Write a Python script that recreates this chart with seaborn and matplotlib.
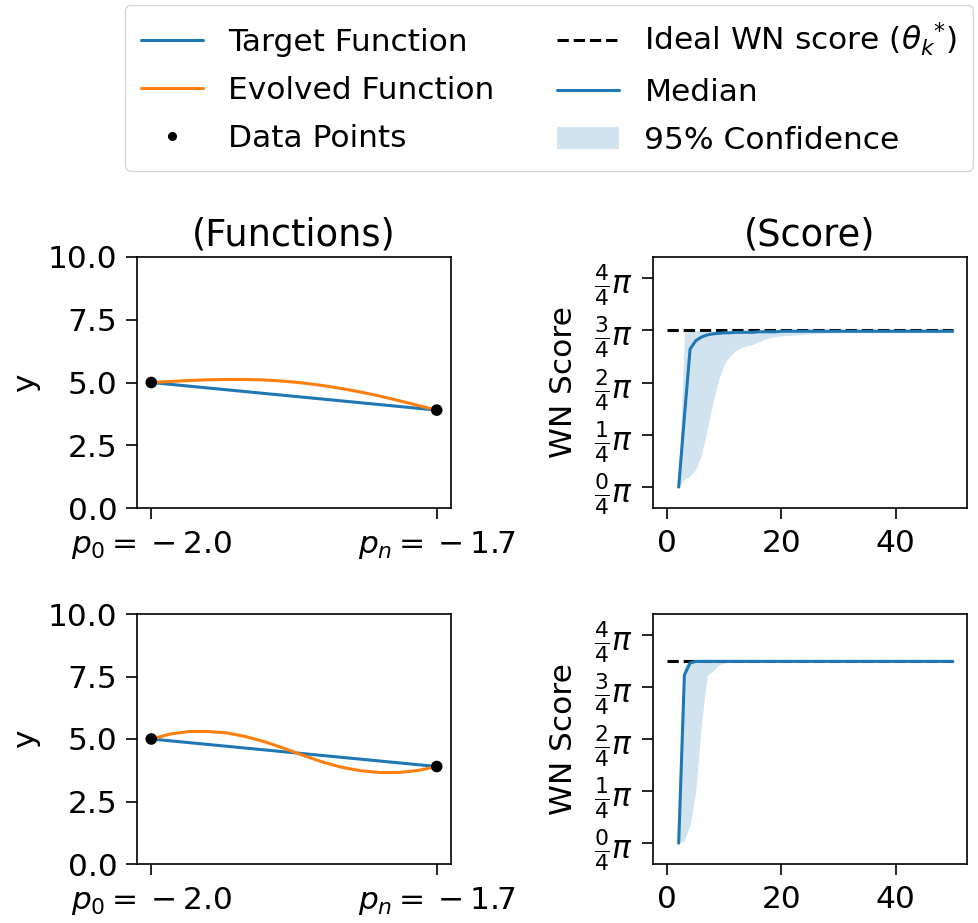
import numpy as np
import pandas as pd
import matplotlib
matplotlib.use("Agg")
import matplotlib.pyplot as plt
from matplotlib.lines import Line2D
from matplotlib.patches import Patch
import seaborn as sns

# ---- function panels -------------------------------------------------------
p_bounds = [-2.0, -1.7]
p_labels = [r"$p_0 = {}-2.0$", r"$p_n = {}-1.7$"]
target_y = [5.0, 3.9]
data_x = [-2.0, -1.7]
data_y = [5.0, 3.9]

curve_x = [-2.00, -1.98, -1.96, -1.94, -1.92, -1.90, -1.88, -1.86,
           -1.84, -1.82, -1.80, -1.78, -1.76, -1.74, -1.72, -1.70]
evolved_top = [5.00, 5.04, 5.08, 5.11, 5.12, 5.12, 5.10, 5.05,
               4.98, 4.88, 4.76, 4.62, 4.46, 4.28, 4.09, 3.90]
evolved_bottom = [5.00, 5.20, 5.30, 5.30, 5.24, 5.09, 4.88, 4.62,
                  4.34, 4.08, 3.87, 3.73, 3.66, 3.66, 3.74, 3.90]

# ---- score panels (values in units of pi/4) -------------------------------
generations = [2, 3, 4, 5, 6, 7, 8, 9, 10, 11, 12, 13, 14, 15, 16, 17, 18, 19,
               20, 25, 30, 35, 40, 45, 50]
ideal_top = 3.0
median_top = [0.00, 1.35, 2.64, 2.80, 2.87, 2.91, 2.93, 2.94, 2.95, 2.95,
              2.96, 2.96, 2.96, 2.96, 2.97, 2.97, 2.97, 2.97, 2.98, 2.98,
              2.98, 2.98, 2.98, 2.98, 2.98]
lower_top = [0.00, 0.15, 0.21, 0.34, 0.62, 1.10, 1.62, 2.06, 2.35, 2.51,
             2.61, 2.67, 2.70, 2.73, 2.78, 2.82, 2.86, 2.88, 2.89, 2.93,
             2.95, 2.95, 2.95, 2.95, 2.95]
upper_top = [0.02, 2.95, 2.98, 2.99, 2.99, 2.99, 2.99, 2.99, 2.99, 2.99,
             2.99, 2.99, 2.99, 2.99, 2.99, 2.99, 2.99, 2.99, 2.99, 2.99,
             2.99, 2.99, 2.99, 2.99, 2.99]

ideal_bottom = 3.5
median_bottom = [0.00, 3.23, 3.46, 3.49, 3.49, 3.49, 3.49, 3.49, 3.49, 3.49,
                 3.49, 3.49, 3.49, 3.49, 3.49, 3.49, 3.49, 3.49, 3.49, 3.49,
                 3.49, 3.49, 3.49, 3.49, 3.49]
lower_bottom = [0.00, 0.05, 0.35, 1.00, 2.30, 3.22, 3.30, 3.42, 3.46, 3.47,
                3.47, 3.47, 3.47, 3.47, 3.47, 3.47, 3.47, 3.47, 3.47, 3.47,
                3.47, 3.47, 3.47, 3.47, 3.47]
upper_bottom = [0.02, 3.42, 3.50, 3.50, 3.50, 3.50, 3.50, 3.50, 3.50, 3.50,
                3.50, 3.50, 3.50, 3.50, 3.50, 3.50, 3.50, 3.50, 3.50, 3.50,
                3.50, 3.50, 3.50, 3.50, 3.50]

score_ticks = [0, 1, 2, 3, 4]
score_ticklabels = [r"$\frac{%d}{4}\pi$" % k for k in score_ticks]

BLUE = "#1f77b4"
ORANGE = "#ff7f0e"
FS = 22.5
TITLE_FS = 26.5

sns.set_style("ticks")
plt.rcParams.update({
    "font.family": ["DejaVu Sans"],
    "font.size": FS,
    "mathtext.fontset": "dejavusans",
    "text.color": "black",
    "axes.labelcolor": "black",
    "xtick.color": "black",
    "ytick.color": "black",
    "axes.edgecolor": "black",
})

W, H = 979, 923
fig = plt.figure(figsize=(W / 100, H / 100), dpi=100)


def frac_box(left, top, right, bottom):
    return [left / W, 1 - bottom / H, (right - left) / W, (bottom - top) / H]


def style_ticks(ax):
    ax.tick_params(labelsize=FS, direction="out", length=8, width=1.2,
                   pad=6)
    ax.tick_params(axis="x", pad=7)


def draw_functions(ax, evolved, title=None):
    sns.lineplot(x=p_bounds, y=target_y, ax=ax, color=BLUE, lw=2.2)
    sns.lineplot(x=curve_x, y=evolved, ax=ax, color=ORANGE, lw=2.2)
    sns.scatterplot(x=data_x, y=data_y, ax=ax, color="black", s=70,
                    edgecolor="none", zorder=5)
    ax.set_ylim(0, 10)
    ax.set_yticks([0, 2.5, 5.0, 7.5, 10.0])
    ax.set_yticklabels(["0.0", "2.5", "5.0", "7.5", "10.0"])
    ax.set_xticks(p_bounds)
    ax.set_xticklabels(p_labels)
    ax.set_ylabel("y", labelpad=6)
    style_ticks(ax)
    if title:
        ax.set_title(title, fontsize=TITLE_FS, pad=8)


def draw_score(ax, ideal, median, lower, upper, title=None):
    ax.hlines(ideal, 0, 50, colors="black", linestyles="--", lw=2.2,
              zorder=1)
    ax.fill_between(generations, lower, upper, color=BLUE, alpha=0.2,
                    lw=0, zorder=2)
    sns.lineplot(x=generations, y=median, ax=ax, color=BLUE, lw=2.2,
                 zorder=3)
    ax.set_xlim(-2.5, 52.5)
    ax.set_ylim(-0.4, 4.4)
    ax.set_xticks([0, 20, 40])
    ax.set_yticks(score_ticks)
    ax.set_yticklabels(score_ticklabels)
    ax.set_ylabel("WN Score", labelpad=12)
    style_ticks(ax)
    if title:
        ax.set_title(title, fontsize=TITLE_FS, pad=8)


ax_f1 = fig.add_axes(frac_box(137, 257, 451, 508))
ax_s1 = fig.add_axes(frac_box(653, 257, 967, 508))
ax_f2 = fig.add_axes(frac_box(137, 614, 451, 864))
ax_s2 = fig.add_axes(frac_box(653, 614, 967, 864))

draw_functions(ax_f1, evolved_top, "(Functions)")
draw_score(ax_s1, ideal_top, median_top, lower_top, upper_top, "(Score)")
draw_functions(ax_f2, evolved_bottom)
draw_score(ax_s2, ideal_bottom, median_bottom, lower_bottom, upper_bottom)

for ax in (ax_f1, ax_s1, ax_f2, ax_s2):
    for sp in ax.spines.values():
        sp.set_visible(True)
        sp.set_linewidth(1.2)
        sp.set_color("black")

handles = [
    Line2D([], [], color=BLUE, lw=2.2),
    Line2D([], [], color=ORANGE, lw=2.2),
    Line2D([], [], color="black", marker="o", ls="none", markersize=5.5),
    Line2D([], [], color="black", ls="--", lw=2.2),
    Line2D([], [], color=BLUE, lw=2.2),
    Patch(facecolor=BLUE, alpha=0.2, edgecolor="none"),
]
labels = ["Target Function", "Evolved Function", "Data Points",
          r"Ideal WN score (${\theta_k}^{*}$)", "Median", "95% Confidence"]
fig.legend(handles, labels, loc="upper left", ncol=2,
           bbox_to_anchor=(125 / W, 1 - 5 / H), borderaxespad=0,
           fontsize=FS, frameon=True, fancybox=True, columnspacing=2.0,
           handlelength=2.0, handletextpad=0.8, borderpad=0.5,
           labelspacing=0.62)

fig.savefig("out.png", dpi=100)
